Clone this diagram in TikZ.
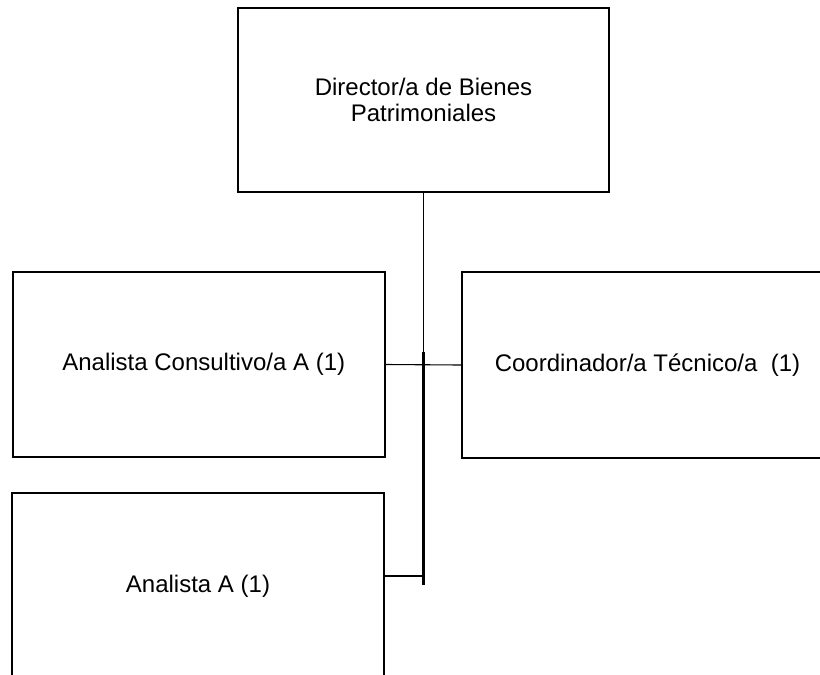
\documentclass[tikz,border=0pt]{standalone}
\usepackage{fontspec}
\setmainfont{Liberation Sans}
\begin{document}
\begin{tikzpicture}[x=1pt,y=-1pt,
  unit/.style={draw=black,line width=2pt,fill=white,rectangle,inner sep=0pt,
    align=center,font=\fontsize{24}{26}\selectfont},
  link/.style={draw=black,line width=1.1pt},
  heavylink/.style={draw=black,line width=2.2pt}]
\useasboundingbox (0,0) rectangle (820,675);
\clip (0,0) rectangle (820,675);

% boxes
\node[unit,minimum width=371pt,minimum height=184pt] (dir) at (423.5,100)
  {Director/a de Bienes\\Patrimoniales};
\node[unit,minimum width=371.5pt,minimum height=185pt] (cons) at (198.75,364.5)
  {\hspace*{10pt}Analista Consultivo/a A (1)};
\node[unit,minimum width=371pt,minimum height=186pt] (coord) at (647.5,365)
  {Coordinador/a Técnico/a\ \ (1)};
\node[unit,minimum width=372pt,minimum height=186pt] (anal) at (198,586)
  {Analista A (1)};

% reporting lines
\coordinate (trunk) at (423.5,352);
\coordinate (foot) at (423.5,585);
\coordinate (tee) at (423.5,576);
\draw[link] (dir.south) -- (trunk);
\draw[heavylink] (trunk) -- (foot);
\draw[link] (cons.east) -- (coord.west);
\draw[heavylink] (tee) -- (tee -| anal.east);
\end{tikzpicture}
\end{document}
